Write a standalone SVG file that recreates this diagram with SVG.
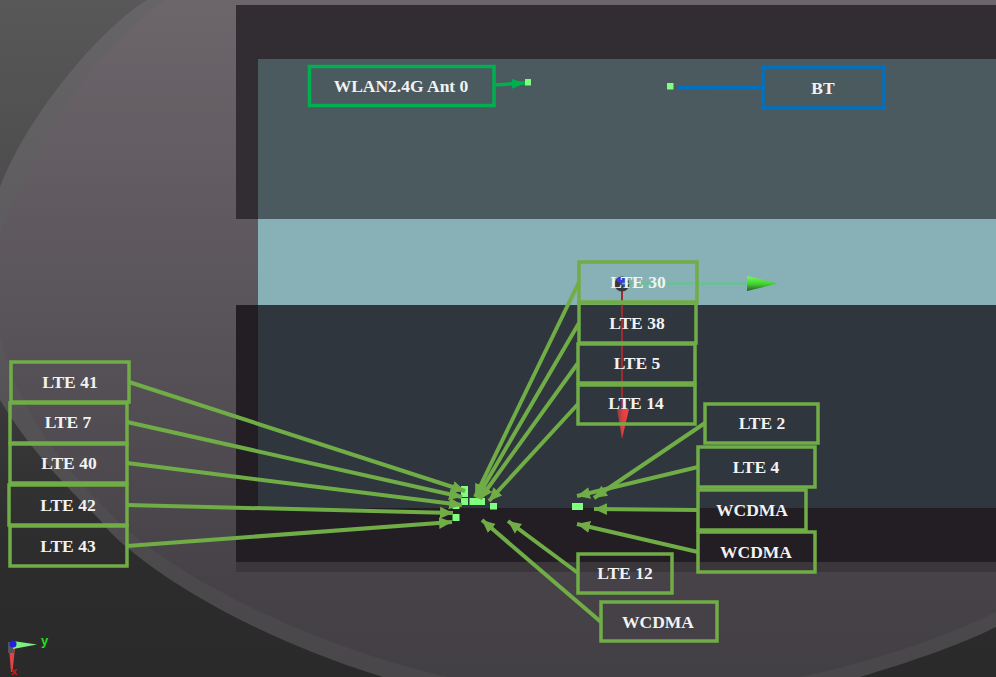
<svg xmlns="http://www.w3.org/2000/svg" width="996" height="677" viewBox="0 0 996 677">
<defs>
<linearGradient id="bg" x1="0" y1="0" x2="0" y2="1"><stop offset="0" stop-color="#585858"/><stop offset="0.3" stop-color="#4c4c4c"/><stop offset="0.8" stop-color="#2d2d2d"/><stop offset="1" stop-color="#2a2a2a"/></linearGradient>
<linearGradient id="plate" gradientUnits="userSpaceOnUse" x1="0" y1="0" x2="0" y2="677"><stop offset="0" stop-color="#6c666b"/><stop offset="0.45" stop-color="#5a555a"/><stop offset="0.85" stop-color="#464248"/><stop offset="1" stop-color="#434045"/></linearGradient>
<linearGradient id="ring" gradientUnits="userSpaceOnUse" x1="0" y1="0" x2="0" y2="677"><stop offset="0" stop-color="#666467"/><stop offset="0.45" stop-color="#5c595c"/><stop offset="0.85" stop-color="#4b494b"/><stop offset="1" stop-color="#494749"/></linearGradient>
<linearGradient id="gc" x1="0" y1="0" x2="0" y2="1"><stop offset="0" stop-color="#70ff50"/><stop offset="0.55" stop-color="#40d030"/><stop offset="1" stop-color="#285a28"/></linearGradient>
<linearGradient id="rc" x1="1" y1="0" x2="0" y2="0"><stop offset="0" stop-color="#ff4040"/><stop offset="0.5" stop-color="#e04040"/><stop offset="1" stop-color="#804050"/></linearGradient>
<marker id="ag" markerUnits="userSpaceOnUse" markerWidth="14" markerHeight="14" refX="13" refY="7" orient="auto"><path d="M0,1 L13,7 L0,13 Z" fill="#70ad47"/></marker>
<marker id="aw" markerUnits="userSpaceOnUse" markerWidth="14" markerHeight="12" refX="13" refY="6" orient="auto"><path d="M0,1 L13,6 L0,11 Z" fill="#00b050"/></marker>
</defs>
<style>
.box{fill:none;stroke:#70ad47;stroke-width:3.500}
.t{font-family:"Liberation Serif","Times New Roman",serif;font-weight:700;font-size:17.500px;fill:#f2f2f2;text-anchor:middle}
.sq{fill:#7fff7f}
.c{fill:none;stroke:#70ad47;stroke-width:4;marker-end:url(#ag)}
</style>
<rect width="996" height="677" fill="url(#bg)"/>
<path d="M147,0 C105,25 30,110 0,187 C-25,250 -20,330 0,400 C30,450 65,485 100,520 C125,555 230,630 383,677 L860,677 C910,662 960,645 996,627 L996,0 Z" fill="url(#ring)"/>
<path d="M165,0 C110,40 50,110 0,233 C-15,270 -10,310 7,360 C25,420 70,475 117,520 C160,565 290,640 447,677 L800,677 C860,665 940,640 996,612 L996,0 Z" fill="url(#plate)"/>
<g id="cabinet">
<rect x="236" y="5" width="760" height="214" fill="#322d32"/>
<rect x="236" y="305" width="760" height="257" fill="#221e23"/>
<rect x="236" y="562" width="760" height="10" fill="#3a363a"/>
<rect x="258" y="59" width="738" height="160" fill="#4b5a5e"/>
<rect x="258" y="219" width="738" height="86" fill="#87b1b6"/>
<rect x="258" y="305" width="738" height="203" fill="#2f363d"/>
</g>
<g id="ports">
<rect class="sq" x="525" y="79" width="6" height="6.500"/>
<rect class="sq" x="667" y="83" width="6.500" height="6.500"/>
<rect class="sq" x="461" y="486" width="7" height="11"/>
<rect class="sq" x="461" y="498" width="7" height="7"/>
<rect class="sq" x="469.500" y="498" width="15.500" height="7"/>
<rect class="sq" x="490" y="503" width="7" height="6.500"/>
<rect class="sq" x="572" y="503" width="11" height="7"/>
<rect class="sq" x="452.500" y="503" width="7" height="6"/>
<rect class="sq" x="452.500" y="514" width="7" height="7"/>
</g>
<g id="axes">
<path d="M622,284 V430" stroke="#a02c30" stroke-width="2" fill="none"/>
<path d="M617,409 H629 L622,439 Z" fill="url(#rc)"/>
<circle cx="622" cy="284" r="7.500" fill="#38383c"/>
<path d="M616,280 A7.500,7.500 0 0 1 628,280 L624,287 Z" fill="#3a3ae0"/>
<path d="M622,283.500 H750" stroke="#2bec50" stroke-width="1.300"/>
<path d="M747,276 L778,283.500 L747,291 Z" fill="url(#gc)"/>
</g>
<g id="triad">
<path d="M9,648 H15 L12.500,672 L11,672 Z" fill="#e04444"/>
<rect x="8" y="642" width="6" height="11" fill="#555"/>
<path d="M13,641 L37,644.500 L13,649 Z" fill="#7cf07c"/>
<circle cx="13" cy="644" r="3.500" fill="#2020e0"/>
<text x="41" y="645" font-family="Liberation Sans,sans-serif" font-size="13" font-weight="700" fill="#20e020">y</text>
<text x="11" y="675" font-family="Liberation Sans,sans-serif" font-size="11" font-weight="700" fill="#e01010">x</text>
</g>
<g id="connectors">
<path d="M494,85 L525,83" fill="none" stroke="#00b050" stroke-width="3.500" marker-end="url(#aw)"/>
<path d="M763,87 L679,88" fill="none" stroke="#0070c0" stroke-width="4" stroke-linecap="round"/>
<path class="c" d="M129,382 L465,491"/>
<path class="c" d="M127,422 L462,497"/>
<path class="c" d="M127,463 L462,505"/>
<path class="c" d="M127,505 L453,513"/>
<path class="c" d="M127,546 L452,522"/>
<path class="c" d="M579,282 L475,497"/>
<path class="c" d="M579,323 L477,498"/>
<path class="c" d="M578,363 L480,499"/>
<path class="c" d="M578,404 L489,501"/>
<path class="c" d="M705,423 L594,498"/>
<path class="c" d="M698,467 L577,496"/>
<path class="c" d="M698,510 L594,509"/>
<path class="c" d="M698,552 L577,524"/>
<path class="c" d="M578,573 L508,521"/>
<path class="c" d="M601,622 L482,520"/>
</g>
<g id="wlan"><rect x="309.500" y="66.500" width="184.500" height="39" fill="none" stroke="#00b050" stroke-width="3.500"/><text class="t" x="401" y="92">WLAN2.4G Ant 0</text></g>
<g id="bt"><rect x="763" y="67" width="121" height="41" fill="none" stroke="#0070c0" stroke-width="3.500"/><text class="t" x="823" y="94">BT</text></g>
<g id="lte30"><rect class="box" x="579" y="262" width="118" height="40"/><text class="t" x="638" y="288">LTE 30</text></g>
<g id="lte38"><rect class="box" x="579" y="303" width="117" height="40"/><text class="t" x="637" y="329">LTE 38</text></g>
<g id="lte5"><rect class="box" x="578" y="344" width="117" height="39"/><text class="t" x="637" y="369">LTE 5</text></g>
<g id="lte14"><rect class="box" x="578" y="385" width="117" height="39"/><text class="t" x="636" y="409">LTE 14</text></g>
<g id="lte2"><rect class="box" x="705" y="404" width="113" height="39"/><text class="t" x="762" y="429">LTE 2</text></g>
<g id="lte4"><rect class="box" x="698" y="447" width="117" height="40"/><text class="t" x="756" y="473">LTE 4</text></g>
<g id="wcdma1"><rect class="box" x="698" y="490" width="108" height="40"/><text class="t" x="752" y="516">WCDMA</text></g>
<g id="wcdma2"><rect class="box" x="698" y="532" width="117" height="40"/><text class="t" x="756" y="558">WCDMA</text></g>
<g id="lte12"><rect class="box" x="578" y="554" width="94" height="39"/><text class="t" x="625" y="579">LTE 12</text></g>
<g id="wcdma3"><rect class="box" x="601" y="602" width="116" height="39"/><text class="t" x="658" y="628">WCDMA</text></g>
<g id="lte41"><rect class="box" x="11" y="362" width="118" height="40"/><text class="t" x="70" y="388">LTE 41</text></g>
<g id="lte7"><rect class="box" x="10" y="403" width="117" height="40"/><text class="t" x="68" y="428">LTE 7</text></g>
<g id="lte40"><rect class="box" x="10" y="444" width="117" height="39"/><text class="t" x="69" y="469">LTE 40</text></g>
<g id="lte42"><rect class="box" x="9" y="485" width="118" height="40"/><text class="t" x="68" y="511">LTE 42</text></g>
<g id="lte43"><rect class="box" x="10" y="526" width="117" height="40"/><text class="t" x="68" y="552">LTE 43</text></g>
</svg>
